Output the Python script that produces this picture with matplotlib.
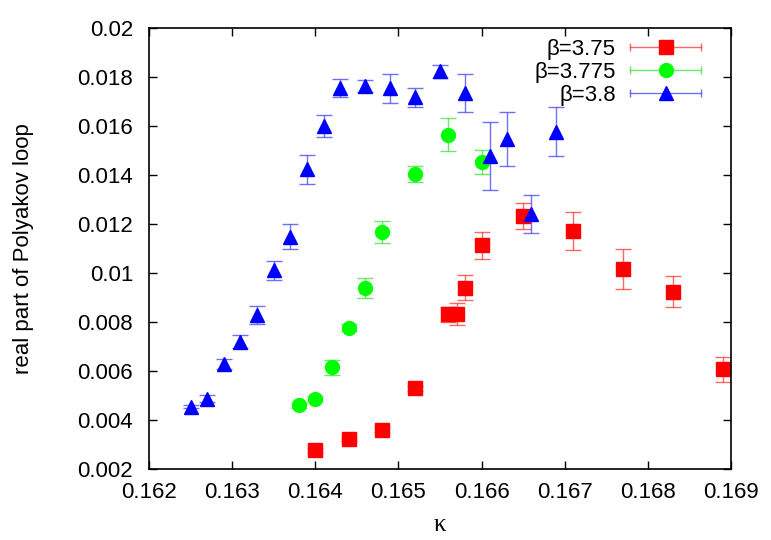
import numpy as np
import matplotlib
matplotlib.use("Agg")
import matplotlib.pyplot as plt
from matplotlib.legend_handler import HandlerBase
from matplotlib.lines import Line2D

plt.rcParams['font.family'] = ['Liberation Sans', 'DejaVu Sans']

# beta = 3.75
k_375 = [0.1640, 0.1644, 0.1648, 0.1652, 0.1656, 0.1657, 0.1658, 0.1660, 0.1665, 0.1671, 0.1677, 0.1683, 0.1689]
p_375 = [0.00278, 0.00322, 0.00359, 0.00529, 0.00831, 0.00831, 0.00940, 0.01114, 0.01233, 0.01171, 0.01015, 0.00924, 0.00607]
e_375 = [0.00008, 0.00008, 0.00008, 0.00010, 0.00030, 0.00045, 0.00052, 0.00055, 0.00053, 0.00077, 0.00082, 0.00063, 0.00050]

# beta = 3.775
k_3775 = [0.1638, 0.1640, 0.1642, 0.1644, 0.1646, 0.1648, 0.1652, 0.1656, 0.1660]
p_3775 = [0.00460, 0.00486, 0.00615, 0.00777, 0.00938, 0.01167, 0.01403, 0.01565, 0.01453]
e_3775 = [0.00010, 0.00010, 0.00030, 0.00015, 0.00040, 0.00046, 0.00033, 0.00067, 0.00049]

# beta = 3.8
k_38 = [0.1625, 0.1627, 0.1629, 0.1631, 0.1633, 0.1635, 0.1637, 0.1639, 0.1641, 0.1643,
        0.1646, 0.1649, 0.1652, 0.1655, 0.1658, 0.1661, 0.1663, 0.1666, 0.1669]
p_38 = [0.00455, 0.00487, 0.00629, 0.00720, 0.00829, 0.01012, 0.01148, 0.01423, 0.01600, 0.01754,
        0.01763, 0.01754, 0.01717, 0.01824, 0.01736, 0.01478, 0.01547, 0.01240, 0.01577]
e_38 = [0.00008, 0.00015, 0.00020, 0.00025, 0.00037, 0.00039, 0.00052, 0.00060, 0.00044, 0.00036,
        0.00025, 0.00060, 0.00039, 0.00027, 0.00078, 0.00140, 0.00110, 0.00077, 0.00100]

labels = ['β=3.75', 'β=3.775', 'β=3.8']
xticks = ['0.162', '0.163', '0.164', '0.165', '0.166', '0.167', '0.168', '0.169']
yticks = ['0.002', '0.004', '0.006', '0.008', '0.01', '0.012', '0.014', '0.016', '0.018', '0.02']


class GnuplotErrHandler(HandlerBase):
    # horizontal bar with end caps and the marker in the middle, like gnuplot keys
    def create_artists(self, legend, orig_handle, xdescent, ydescent,
                       width, height, fontsize, trans):
        data_line = orig_handle.lines[0]
        ecolor = orig_handle.lines[2][0].get_color()[0]
        y = height / 2 - ydescent
        x0, x1 = -xdescent, width - xdescent
        bar = Line2D([x0, x1], [y, y], color=ecolor, lw=1, transform=trans)
        cap0 = Line2D([x0], [y], marker='|', ms=6, mew=1, color=ecolor, transform=trans)
        cap1 = Line2D([x1], [y], marker='|', ms=6, mew=1, color=ecolor, transform=trans)
        mk = Line2D([(x0 + x1) / 2], [y], ls='none', marker=data_line.get_marker(),
                    ms=data_line.get_markersize(), color=data_line.get_color(),
                    mec=data_line.get_color(), transform=trans)
        return [bar, cap0, cap1, mk]


fig = plt.figure(figsize=(7.71, 5.40), dpi=100)
ax = fig.add_axes([149 / 771, 1 - 469 / 540, (731 - 149) / 771, (469 - 28) / 540])

c1 = ax.errorbar(k_375, p_375, yerr=e_375, fmt='s', color='#ff0000', ms=9.5,
                 ecolor=(1, 0.2, 0.2, 0.75), elinewidth=1, capsize=5.5, capthick=1, label=labels[0])
c2 = ax.errorbar(k_3775, p_3775, yerr=e_3775, fmt='o', color='#00ff00', ms=10,
                 ecolor=(0.2, 0.9, 0.2, 0.75), elinewidth=1, capsize=5.5, capthick=1, label=labels[1])
c3 = ax.errorbar(k_38, p_38, yerr=e_38, fmt='^', color='#0000ff', ms=10,
                 ecolor=(0.25, 0.25, 1, 0.75), elinewidth=1, capsize=5.5, capthick=1, label=labels[2])

ax.set_xlim(0.162, 0.169)
ax.set_ylim(0.002, 0.02)
ax.set_xticks(np.arange(0.162, 0.1691, 0.001))
ax.set_yticks(np.arange(0.002, 0.0201, 0.002))
ax.set_xticklabels(xticks)
ax.set_yticklabels(yticks)
ax.tick_params(direction='in', length=6, width=1, top=True, right=True, labelsize=16, pad=9)
ax.tick_params(axis='y', pad=11.5)
for s in ax.spines.values():
    s.set_linewidth(1.2)

ax.set_xlabel('κ', fontsize=18, family=['Liberation Serif', 'DejaVu Serif'], labelpad=8)
ax.set_ylabel('real part of Polyakov loop', fontsize=16, labelpad=31)

ax.legend(handles=[c1, c2, c3], labels=labels, loc='upper right', markerfirst=False,
          frameon=False, fontsize=16, handlelength=3.2, handletextpad=0.65,
          labelspacing=0.1, borderaxespad=0.3, bbox_to_anchor=(0.976, 1.011),
          handler_map={c1: GnuplotErrHandler(), c2: GnuplotErrHandler(), c3: GnuplotErrHandler()})

fig.savefig('out.png', dpi=100)
